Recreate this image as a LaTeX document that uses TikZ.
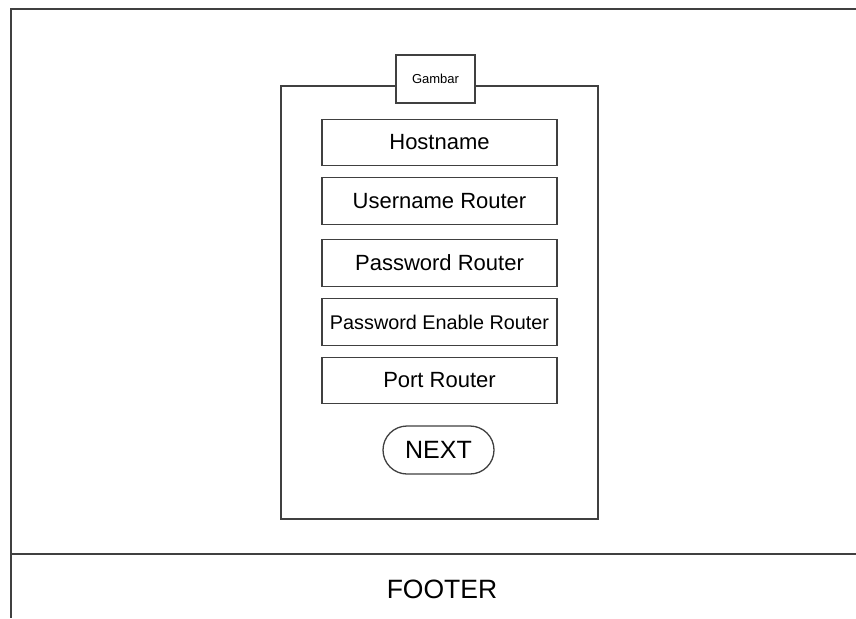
\documentclass[tikz,border=0pt]{standalone}
\usepackage{fontspec}
\setmainfont{Liberation Sans}
\begin{document}
\begin{tikzpicture}[x=1pt,y=-1pt,
  lnk/.style={draw=black!75,line width=1.3pt},
  field/.style={lnk,rectangle,minimum width=235pt,minimum height=46.5pt,inner sep=0pt,font=\fontsize{22}{26}\selectfont},
  pill/.style={lnk,rectangle,rounded corners=24pt,minimum width=111pt,minimum height=48pt,inner sep=0pt,font=\fontsize{25}{30}\selectfont},
  panelbox/.style={lnk,rectangle,minimum width=317pt,minimum height=433pt,inner sep=0pt},
  imgbox/.style={lnk,fill=white,rectangle,minimum width=79pt,minimum height=48pt,inner sep=0pt,font=\fontsize{13}{15}\selectfont}
]
\useasboundingbox (0,0) rectangle (856,618);
\fill[white] (0,0) rectangle (856,618);
% outer frame
\coordinate (tl) at (11,9);
\coordinate (tr) at (856,9);
\coordinate (bl) at (11,618);
\coordinate (fl) at (11,554);
\coordinate (fr) at (856,554);
\draw[lnk] (tr) -- (tl) -- (bl);
\draw[lnk] (fl) -- (fr);
\node[font=\fontsize{26.5}{30}\selectfont] (footer) at (442,589) {FOOTER};
% panel
\node[panelbox] (panel) at (439.5,302.5) {};
\node[imgbox] (gambar) at (435.5,79) {Gambar};
\node[field] (host) at (439.5,142.5) {Hostname};
\node[field] (user) at (439.5,201) {Username Router};
\node[field] (pass) at (439.5,263) {Password Router};
\node[field,font=\fontsize{19.8}{24}\selectfont] (enable) at (439.5,322) {Password Enable Router};
\node[field] (port) at (439.5,380.5) {Port Router};
\node[pill] (next) at (438.5,450) {NEXT};
\end{tikzpicture}
\end{document}
